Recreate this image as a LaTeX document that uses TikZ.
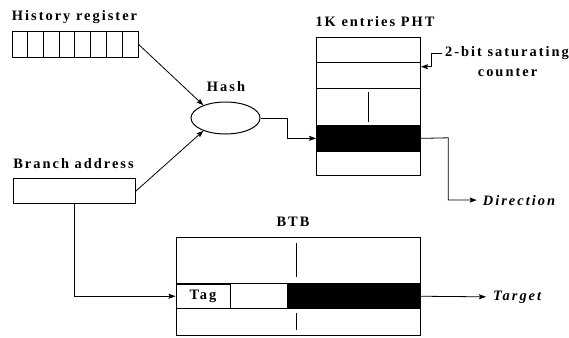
\documentclass[tikz,border=0pt]{standalone}
\usepackage{fontspec}
\setmainfont{Liberation Serif}
\newfontfamily\lblfont[LetterSpace=14]{Liberation Serif}
\usetikzlibrary{shapes.geometric,arrows.meta}
\begin{document}
\begin{tikzpicture}[x=1pt,y=-1pt,
  lab/.style={font=\lblfont\bfseries\fontsize{14.4}{16}\selectfont, inner sep=0pt, anchor=base},
  labi/.style={font=\lblfont\bfseries\itshape\fontsize{14.4}{16}\selectfont, inner ysep=0pt, anchor=base west},
  box/.style={draw, line width=1pt, rectangle, inner sep=0pt},
  blk/.style={draw, fill=black, line width=1pt, rectangle, inner sep=0pt},
  thin/.style={line width=0.9pt},
  arr/.style={line width=0.8pt, -{Stealth[length=7pt,width=5pt,inset=1.2pt]}}]
\useasboundingbox (0,0) rectangle (569,337);

% History register
\node[lab] (histlab) at (74.5,20.5) {History register};
\node[box, minimum width=125.7pt, minimum height=26pt, anchor=north west] (hist) at (12,31) {};
\foreach \i in {1,...,7}
  \draw[thin] ([xshift=\i*15.71pt]hist.north west) -- ([xshift=\i*15.71pt]hist.south west);

% Hash
\node[lab] (hashlab) at (226,91.7) {Hash};
\node[draw, ellipse, line width=1pt, minimum width=69pt, minimum height=32pt, inner sep=0pt] (hash) at (225.5,118) {};

% Branch address
\node[lab] (balab) at (73.5,168.3) {Branch address};
\node[box, minimum width=121.7pt, minimum height=24.4pt, anchor=north west] (ba) at (13.3,178.3) {};

% PHT
\node[lab] (phtlab) at (375,26.5) {1K entries PHT};
\node[box, minimum width=104pt, minimum height=138pt, anchor=north west] (pht) at (316,37) {};
\draw[box] (pht.west |- 0,62.3) -- (pht.east |- 0,62.3);
\draw[box] (pht.west |- 0,88.3) -- (pht.east |- 0,88.3);
\node[blk, minimum width=104pt, minimum height=25.7pt, anchor=north west] (phtrow) at (316,125) {};
\draw[thin] (368.3,91.7) -- (368.3,121.7);

% counter label
\node[lab] (cnt1) at (507,56.7) {2-bit saturating};
\node[lab] (cnt2) at (507.5,76) {counter};

% BTB
\node[lab] (btblab) at (293,226) {BTB};
\node[box, minimum width=244.5pt, minimum height=98pt, anchor=north west] (btb) at (175.5,237) {};
\draw[box] (btb.west |- 0,283.5) -- (btb.east |- 0,283.5);
\draw[box] (btb.west |- 0,308) -- (btb.east |- 0,308);
\node[box, minimum width=54pt, minimum height=24.5pt, anchor=north west, font=\lblfont\bfseries\fontsize{14.4}{16}\selectfont] (tag) at (175.5,283.5) {Tag};
\node[blk, minimum width=133.3pt, minimum height=24.5pt, anchor=north west] (btbrow) at (286.7,283.5) {};
\draw[thin] (296.7,243) -- (296.7,277);
\draw[thin] (296.7,313) -- (296.7,330);

% outputs
\node[labi, inner xsep=6pt] (dir) at (476.7,205) {Direction};
\node[labi, inner xsep=7pt] (tgt) at (486,300) {Target};

% connectors
\draw[arr] (hist.east) -- (hash.150);
\draw[arr] (ba.east) -- (hash.210);
\coordinate (h1) at (287,118);
\draw[arr] (hash.east) -- (h1) |- (phtrow.west);
\coordinate (c1) at (431.7,66.7);
\draw[arr] ([xshift=-3pt]cnt1.west) -| (c1) -- (pht.east |- c1);
\coordinate (d1) at (448.3,137.8);
\draw[arr] (phtrow.east) -- (d1) |- (dir.west);
\draw[arr] (ba.south) |- (tag.west);
\draw[arr] (btbrow.east) -- (tgt.west);
\end{tikzpicture}
\end{document}
